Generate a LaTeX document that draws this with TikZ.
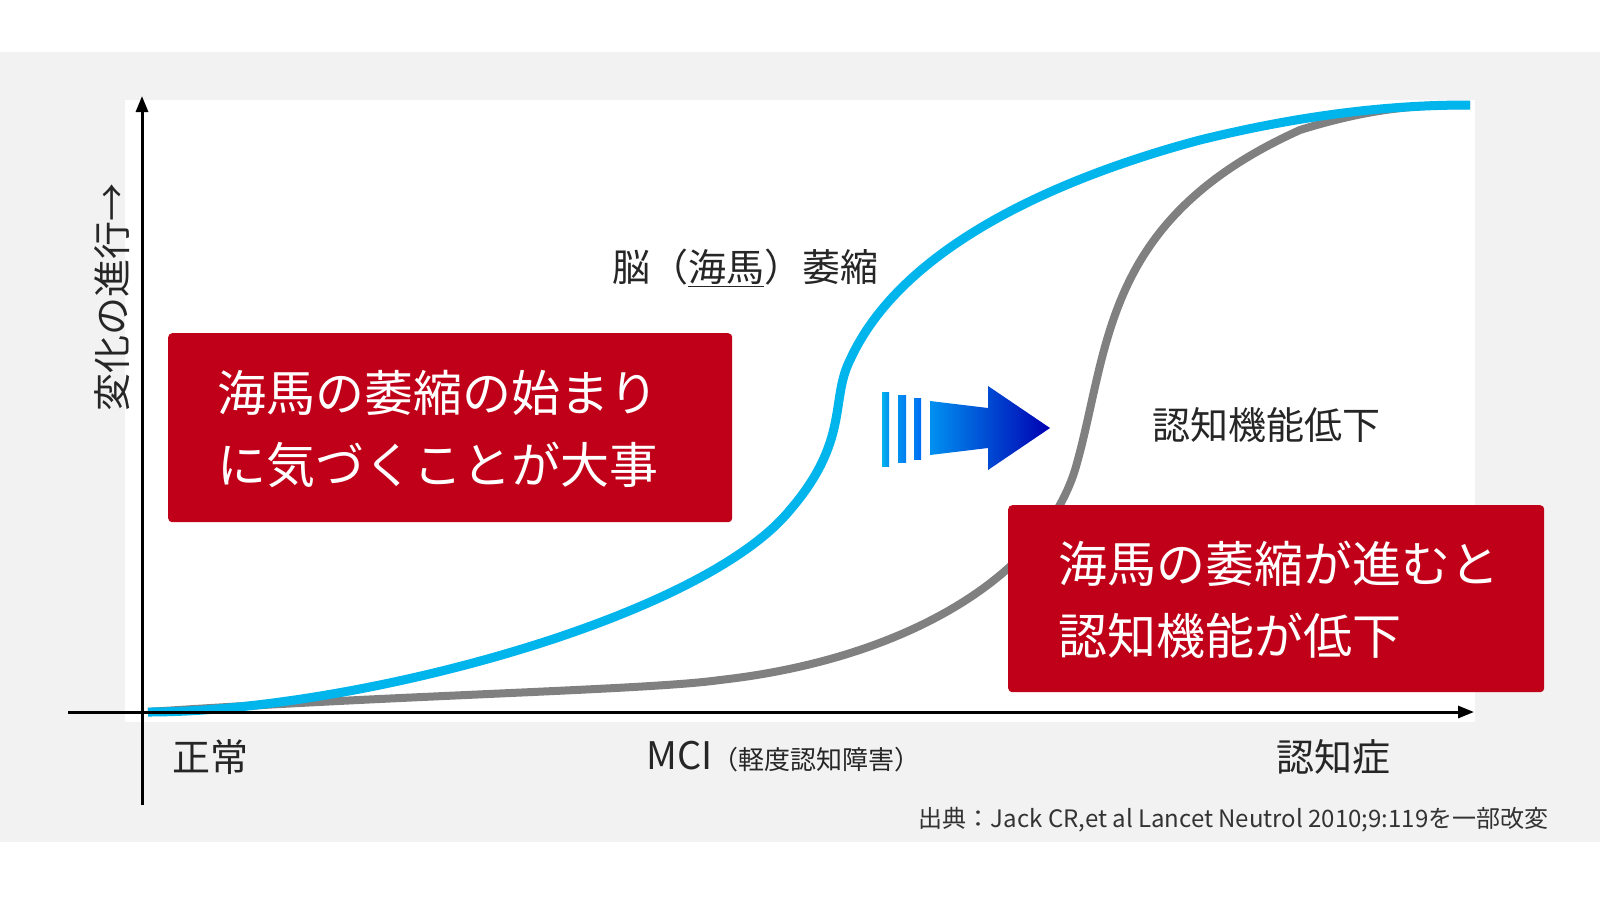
\documentclass[tikz,border=0pt]{standalone}
\usepackage{fontspec}
\newfontfamily\cjk{Noto Sans CJK JP}
\usetikzlibrary{arrows.meta}
\definecolor{cblue}{HTML}{00B4EC}
\definecolor{cgray}{HTML}{808080}
\definecolor{cred}{HTML}{C00018}
\begin{document}
\begin{tikzpicture}[x=1pt,y=-1pt,
  redbox/.style={fill=cred,draw=none,rounded corners=4pt},
  wtext/.style={text=white,font=\cjk\fontsize{49}{72}\selectfont,align=left,anchor=west},
  lbl/.style={font=\cjk\fontsize{38}{44}\selectfont,text=black!85},
  sh/.style={left color=cblue!80!blue,right color=blue!70!black}]
\useasboundingbox (0,0) rectangle (1600,911);
\fill[white] (0,0) rectangle (1600,911);
\fill[black!5] (0,52) rectangle (1600,842);
\fill[white] (125,100) rectangle (1475,722);
% curves
\draw[cgray,line width=8pt] (148,712) .. controls (400,695) and (650,690) .. (720,680)
  .. controls (900,660) and (1040,580) .. (1075,470)
  .. controls (1110,350) and (1100,220) .. (1300,130)
  .. controls (1380,105) and (1430,105) .. (1470,105);
\draw[cblue,line width=9pt] (148,712) .. controls (350,712) and (700,620) .. (790,510)
  .. controls (850,440) and (830,400) .. (850,360)
  .. controls (900,250) and (1050,180) .. (1200,140)
  .. controls (1330,108) and (1420,105) .. (1470,105);
% axes
\draw[line width=3pt,-{Triangle[length=16pt,width=12pt]}] (68,712) -- (1474,712);
\draw[line width=3pt,-{Triangle[length=16pt,width=12pt]}] (142,805) -- (142,96);
% boxes
\node[redbox,minimum width=564pt,minimum height=189pt,anchor=north west] (b1) at (168,333) {};
\node[wtext] (t1) at (214,429) {海馬の萎縮の始まり\\に気づくことが大事};
\node[redbox,minimum width=536pt,minimum height=187pt,anchor=north west] (b2) at (1008,505) {};
\node[wtext] (t2) at (1055,600) {海馬の萎縮が進むと\\認知機能が低下};
% labels
\node[lbl] (l1) at (745,268) {脳（\underline{海馬}）萎縮};
\node[lbl] (l2) at (1266,425) {認知機能低下};
\node[lbl,rotate=90] (ly) at (112,297) {変化の進行→};
\node[lbl] (x1) at (210,757) {正常};
\node[font=\cjk,text=black!85,anchor=west] (x2) at (643,757) {\fontsize{38}{44}\selectfont MCI\fontsize{26}{30}\selectfont（軽度認知障害）};
\node[lbl] (x3) at (1333,757) {認知症};
\node[font=\cjk\fontsize{24}{28}\selectfont,text=black!80,anchor=east] (src) at (1552,820) {出典：Jack CR,et al Lancet Neutrol 2010;9:119を一部改変};
% arrow
\shade[left color=cblue,right color=cblue!80!blue] (882,392) rectangle (889,466);
\shade[left color=cblue!80!blue,right color=cblue!70!blue] (898,395) rectangle (906,462);
\shade[left color=cblue!70!blue,right color=cblue!60!blue] (914,398) rectangle (921,459);
\shade[sh] (930,401) -- (988,408) -- (988,386) -- (1050,428) -- (988,470) -- (988,448) -- (930,455) -- cycle;
\end{tikzpicture}
\end{document}
